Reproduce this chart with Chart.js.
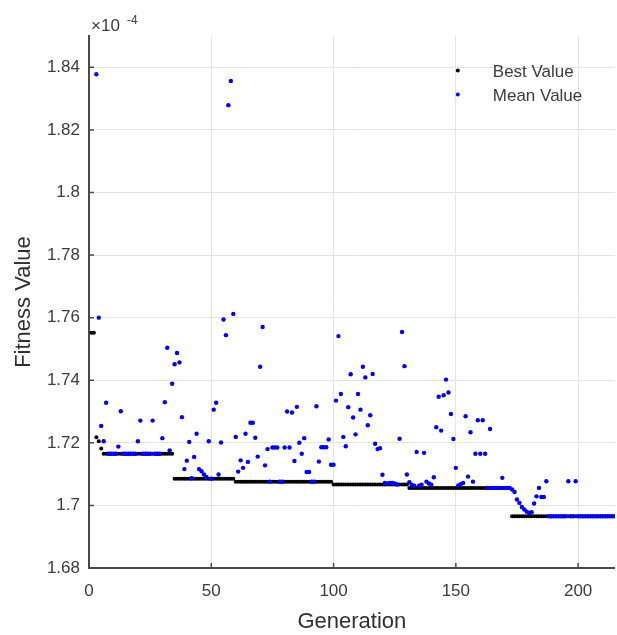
<!DOCTYPE html>
<html>
<head>
<meta charset="utf-8">
<script src="https://cdn.jsdelivr.net/npm/chart.js@4.4.1/dist/chart.umd.min.js"></script>
<style>
  html, body { margin: 0; padding: 0; background: #fff; }
  #wrap { width: 617px; height: 635px; }
</style>
</head>
<body>
<div id="wrap"><canvas id="myCanvas" width="617" height="635"></canvas></div>
<script>
// fitness per generation, in units of 1e-4
const generations = Array.from({ length: 215 }, (_, i) => i + 1);

const bestValue = [
  1.7552, 1.7552, 1.7218, 1.7205, 1.7182, 1.7165, 1.7165, 1.7165, 1.7165, 1.7165,
  1.7165, 1.7165, 1.7165, 1.7165, 1.7165, 1.7165, 1.7165, 1.7165, 1.7165, 1.7165,
  1.7165, 1.7165, 1.7165, 1.7165, 1.7165, 1.7165, 1.7165, 1.7165, 1.7165, 1.7165,
  1.7165, 1.7165, 1.7165, 1.7165, 1.7085, 1.7085, 1.7085, 1.7085, 1.7085, 1.7085,
  1.7085, 1.7085, 1.7085, 1.7085, 1.7085, 1.7085, 1.7085, 1.7085, 1.7085, 1.7085,
  1.7085, 1.7085, 1.7085, 1.7085, 1.7085, 1.7085, 1.7085, 1.7085, 1.7085, 1.7076,
  1.7076, 1.7076, 1.7076, 1.7076, 1.7076, 1.7076, 1.7076, 1.7076, 1.7076, 1.7076,
  1.7076, 1.7076, 1.7076, 1.7076, 1.7076, 1.7076, 1.7076, 1.7076, 1.7076, 1.7076,
  1.7076, 1.7076, 1.7076, 1.7076, 1.7076, 1.7076, 1.7076, 1.7076, 1.7076, 1.7076,
  1.7076, 1.7076, 1.7076, 1.7076, 1.7076, 1.7076, 1.7076, 1.7076, 1.7076, 1.7067,
  1.7067, 1.7067, 1.7067, 1.7067, 1.7067, 1.7067, 1.7067, 1.7067, 1.7067, 1.7067,
  1.7067, 1.7067, 1.7067, 1.7067, 1.7067, 1.7067, 1.7067, 1.7067, 1.7067, 1.7067,
  1.7067, 1.7067, 1.7067, 1.7067, 1.7067, 1.7067, 1.7067, 1.7067, 1.7067, 1.7067,
  1.7056, 1.7056, 1.7056, 1.7056, 1.7056, 1.7056, 1.7056, 1.7056, 1.7056, 1.7056,
  1.7056, 1.7056, 1.7056, 1.7056, 1.7056, 1.7056, 1.7056, 1.7056, 1.7056, 1.7056,
  1.7056, 1.7056, 1.7056, 1.7056, 1.7056, 1.7056, 1.7056, 1.7056, 1.7056, 1.7056,
  1.7056, 1.7056, 1.7056, 1.7056, 1.7056, 1.7056, 1.7056, 1.7056, 1.7056, 1.7056,
  1.7056, 1.7056, 1.6965, 1.6965, 1.6965, 1.6965, 1.6965, 1.6965, 1.6965, 1.6965,
  1.6965, 1.6965, 1.6965, 1.6965, 1.6965, 1.6965, 1.6965, 1.6965, 1.6965, 1.6965,
  1.6965, 1.6965, 1.6965, 1.6965, 1.6965, 1.6965, 1.6965, 1.6965, 1.6965, 1.6965,
  1.6965, 1.6965, 1.6965, 1.6965, 1.6965, 1.6965, 1.6965, 1.6965, 1.6965, 1.6965,
  1.6965, 1.6965, 1.6965, 1.6965, 1.6965
];

// first two generations are above the plotted range
const meanValue = [
  null, null, 1.8378, 1.7600, 1.7254, 1.7205, 1.7328, 1.7165, 1.7165, 1.7165,
  1.7165, 1.7188, 1.7301, 1.7165, 1.7165, 1.7165, 1.7165, 1.7165, 1.7165, 1.7205,
  1.7271, 1.7165, 1.7165, 1.7165, 1.7165, 1.7271, 1.7165, 1.7165, 1.7165, 1.7215,
  1.7330, 1.7504, 1.7176, 1.7389, 1.7451, 1.7487, 1.7457, 1.7282, 1.7116, 1.7143,
  1.7203, 1.7087, 1.7155, 1.7229, 1.7116, 1.7109, 1.7099, 1.7091, 1.7205, 1.7085,
  1.7306, 1.7328, 1.7099, 1.7201, 1.7594, 1.7544, 1.8279, 1.8356, 1.7612, 1.7219,
  1.7108, 1.7144, 1.7120, 1.7229, 1.7139, 1.7264, 1.7264, 1.7216, 1.7156, 1.7443,
  1.7570, 1.7128, 1.7180, 1.7076, 1.7185, 1.7185, 1.7185, 1.7076, 1.7076, 1.7185,
  1.7300, 1.7185, 1.7297, 1.7142, 1.7315, 1.7200, 1.7165, 1.7215, 1.7107, 1.7107,
  1.7076, 1.7076, 1.7317, 1.7140, 1.7186, 1.7186, 1.7186, 1.7211, 1.7130, 1.7130,
  1.7335, 1.7541, 1.7356, 1.7219, 1.7189, 1.7314, 1.7419, 1.7281, 1.7227, 1.7356,
  1.7306, 1.7443, 1.7409, 1.7256, 1.7288, 1.7420, 1.7197, 1.7180, 1.7183, 1.7098,
  1.7072, 1.7070, 1.7072, 1.7072, 1.7070, 1.7067, 1.7213, 1.7554, 1.7445, 1.7099,
  1.7074, 1.7066, 1.7063, 1.7171, 1.7063, 1.7066, 1.7168, 1.7076, 1.7070, 1.7066,
  1.7090, 1.7250, 1.7347, 1.7239, 1.7352, 1.7402, 1.7361, 1.7292, 1.7212, 1.7120,
  1.7064, 1.7068, 1.7072, 1.7285, 1.7092, 1.7234, 1.7076, 1.7165, 1.7272, 1.7165,
  1.7272, 1.7165, 1.7056, 1.7244, 1.7056, 1.7056, 1.7056, 1.7056, 1.7088, 1.7056,
  1.7056, 1.7056, 1.7051, 1.7043, 1.7019, 1.7008, 1.6995, 1.6987, 1.6980, 1.6976,
  1.6978, 1.7006, 1.7029, 1.7056, 1.7027, 1.7027, 1.7077, 1.6965, 1.6965, 1.6965,
  1.6965, 1.6965, 1.6965, 1.6965, 1.6965, 1.7077, 1.6965, 1.6965, 1.7077, 1.6965,
  1.6965, 1.6965, 1.6965, 1.6965, 1.6965, 1.6965, 1.6965, 1.6965, 1.6965, 1.6965,
  1.6965, 1.6965, 1.6965, 1.6965, 1.6965
];

const xTicks = [0, 50, 100, 150, 200];
const yTicks = [1.68, 1.7, 1.72, 1.74, 1.76, 1.78, 1.8, 1.82, 1.84];

const family = "'Liberation Sans', Arial, Helvetica, sans-serif";
const axisColor = '#4a4a4a';
const textColor = '#3c3c3c';
const gridColor = '#e4e4e4';

function toPoints(values) {
  return generations.map((g, i) => ({ x: g, y: values[i] }));
}

// short inward tick marks along both axes
const innerTicks = {
  id: 'innerTicks',
  afterDatasetsDraw(chart) {
    const { ctx, chartArea, scales } = chart;
    ctx.save();
    ctx.strokeStyle = axisColor;
    ctx.lineWidth = 1.5;
    ctx.beginPath();
    yTicks.forEach(v => {
      const y = scales.y.getPixelForValue(v);
      ctx.moveTo(chartArea.left, y);
      ctx.lineTo(chartArea.left + 5, y);
    });
    xTicks.forEach(v => {
      const x = scales.x.getPixelForValue(v);
      ctx.moveTo(x, chartArea.bottom);
      ctx.lineTo(x, chartArea.bottom - 5);
    });
    ctx.stroke();
    ctx.restore();
  }
};

// exponent label above the y axis
const exponentLabel = {
  id: 'exponentLabel',
  afterDraw(chart) {
    const { ctx, chartArea } = chart;
    ctx.save();
    ctx.fillStyle = textColor;
    ctx.textBaseline = 'alphabetic';
    ctx.textAlign = 'left';
    ctx.font = '17px ' + family;
    ctx.fillText('\u00d710', chartArea.left + 2, chartArea.top - 5);
    ctx.font = '12px ' + family;
    ctx.fillText('-4', chartArea.left + 38, chartArea.top - 12);
    ctx.restore();
  }
};

// dot legend in the upper right of the plot
const dotLegend = {
  id: 'dotLegend',
  afterDraw(chart) {
    const { ctx, chartArea } = chart;
    const x0 = chartArea.right - 157;
    ctx.save();
    ctx.font = '17px ' + family;
    ctx.textBaseline = 'middle';
    ctx.textAlign = 'left';
    chart.data.datasets.forEach((ds, i) => {
      const y = chartArea.top + 36 + i * 24;
      ctx.fillStyle = ds.backgroundColor;
      ctx.beginPath();
      ctx.arc(x0, y - 1.5, 2, 0, Math.PI * 2);
      ctx.fill();
      ctx.fillStyle = textColor;
      ctx.fillText(ds.label, x0 + 35, y);
    });
    ctx.restore();
  }
};

const ctx = document.getElementById('myCanvas');
new Chart(ctx, {
  type: 'scatter',
  data: {
    datasets: [
      {
        label: 'Best Value',
        data: toPoints(bestValue),
        backgroundColor: '#000000',
        borderWidth: 0,
        pointRadius: 2,
        pointHoverRadius: 2,
        order: 2
      },
      {
        label: 'Mean Value',
        data: toPoints(meanValue),
        backgroundColor: '#0000ff',
        borderWidth: 0,
        pointRadius: 2.2,
        pointHoverRadius: 2.2,
        order: 1
      }
    ]
  },
  options: {
    animation: false,
    responsive: false,
    devicePixelRatio: 1,
    layout: { padding: { top: 36, right: 1, left: 0, bottom: 0 } },
    plugins: {
      legend: { display: false },
      tooltip: { enabled: false }
    },
    scales: {
      x: {
        type: 'linear',
        min: 0,
        max: 215,
        afterBuildTicks: s => { s.ticks = xTicks.map(v => ({ value: v })); },
        afterFit: s => { s.height = 67; },
        grid: { color: gridColor, lineWidth: 1, drawTicks: false },
        border: { color: axisColor, width: 2 },
        ticks: {
          padding: 13,
          color: textColor,
          maxRotation: 0,
          font: { family: family, size: 17 },
          callback: v => String(v)
        },
        title: {
          display: true,
          text: 'Generation',
          color: '#303030',
          font: { family: family, size: 22 },
          padding: { top: 0, bottom: 0 }
        }
      },
      y: {
        min: 1.68,
        max: 1.85,
        afterBuildTicks: s => { s.ticks = yTicks.map(v => ({ value: v })); },
        afterFit: s => { s.width = 89; },
        grid: { color: gridColor, lineWidth: 1, drawTicks: false },
        border: { color: axisColor, width: 2 },
        ticks: {
          padding: 9,
          color: textColor,
          font: { family: family, size: 17 },
          callback: v => String(v)
        },
        title: {
          display: true,
          text: 'Fitness Value',
          color: '#303030',
          font: { family: family, size: 22 },
          padding: { top: 11, bottom: 0 }
        }
      }
    }
  },
  plugins: [innerTicks, exponentLabel, dotLegend]
});
</script>
</body>
</html>
